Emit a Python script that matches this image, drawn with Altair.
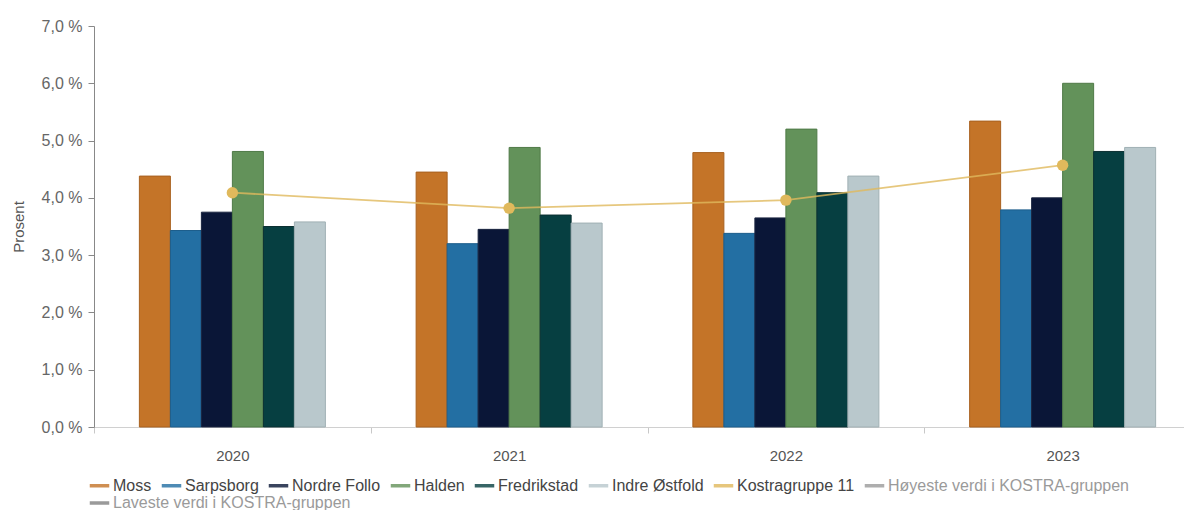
import altair as alt
import pandas as pd

years = ["2020", "2021", "2022", "2023"]
series = ["Moss", "Sarpsborg", "Nordre Follo", "Halden", "Fredrikstad", "Indre Østfold"]
moss = [4.38, 4.45, 4.79, 5.34]
sarpsborg = [3.43, 3.20, 3.38, 3.79]
nordre_follo = [3.75, 3.45, 3.65, 4.00]
halden = [4.81, 4.88, 5.20, 6.00]
fredrikstad = [3.50, 3.70, 4.09, 4.81]
indre_ostfold = [3.58, 3.56, 4.38, 4.88]
kostra_name = "Kostragruppe 11"
kostra = [4.09, 3.82, 3.96, 4.57]
high_name = "Høyeste verdi i KOSTRA-gruppen"
low_name = "Laveste verdi i KOSTRA-gruppen"

legend_names = series + [kostra_name, high_name]
colors = ["#c47428", "#236fa3", "#0a1637", "#63925a", "#063f41", "#b9c8cc",
          "#e0b95c", "#9a9a9a"]
edge_colors = ["#a8611f", "#1d5e8c", "#1b2540", "#4f7a47", "#0b3032", "#a0b0b4"]

rows = []
for name, vals in zip(series, [moss, sarpsborg, nordre_follo, halden, fredrikstad, indre_ostfold]):
    for yr, v in zip(years, vals):
        rows.append({"year": yr, "series": name, "value": v})
bars_df = pd.DataFrame(rows)
kostra_df = pd.DataFrame({"year": years, "series": [kostra_name] * len(years), "value": kostra})
empty_df = pd.DataFrame({"year": pd.Series([], dtype=str), "series": pd.Series([], dtype=str),
                         "value": pd.Series([], dtype=float)})

PLOT_W = 1090          # visible plot area
X_RANGE = 1107         # band scale runs past the right edge, as in the reference
band = X_RANGE / len(years)
group_w = 186
off0 = (band - group_w) / 2

LEG_X = -6
LEG_Y = 448

color_scale = alt.Scale(domain=legend_names, range=colors)
legend = alt.Legend(
    title=None,
    orient="none",
    legendX=LEG_X,
    legendY=LEG_Y,
    direction="horizontal",
    columns=8,
    symbolType="stroke",
    symbolSize=380,
    symbolStrokeWidth=3.5,
    symbolStrokeColor=alt.ExprRef(expr="scale('color', datum.value)"),
    labelFontSize=16,
    labelOffset=2,
    columnPadding=2,
    labelLimit=400,
    labelColor=alt.ExprRef(expr="datum.label == 'Høyeste verdi i KOSTRA-gruppen' ? '#9a9a9a' : '#444444'"),
)
legend_low = alt.Legend(
    title=None,
    orient="none",
    legendX=LEG_X,
    legendY=LEG_Y + 17.5,
    direction="horizontal",
    symbolSize=380,
    symbolStrokeWidth=3.5,
    symbolStrokeColor="#9a9a9a",
    symbolOpacity=1,
    labelFontSize=16,
    labelOffset=2,
    labelLimit=400,
    labelColor="#9a9a9a",
)

x_enc = alt.X(
    "year:N",
    sort=years,
    scale=alt.Scale(paddingInner=0, paddingOuter=0, range=[0, X_RANGE]),
    axis=alt.Axis(title=None, labelAngle=0, tickBand="extent", domainColor="#d0d0d0",
                  tickColor="#c8c8c8", tickSize=6, labelPadding=15, labelFontSize=15,
                  labelColor="#555555", grid=False),
)
y_enc = alt.Y(
    "value:Q",
    scale=alt.Scale(domain=[0, 7], nice=False),
    axis=alt.Axis(values=[0, 1, 2, 3, 4, 5, 6, 7],
                  labelExpr="replace(format(datum.value, '.1f'), '.', ',') + ' %'",
                  grid=False, domainColor="#888888", tickColor="#888888", tickSize=6,
                  labelPadding=6, labelFontSize=16, labelColor="#666666",
                  title="Prosent", titleFontSize=15, titleFontWeight="normal",
                  titleColor="#555555", titlePadding=15),
)

bars = alt.Chart(bars_df).mark_bar(strokeWidth=1).encode(
    x=x_enc,
    xOffset=alt.XOffset("series:N", sort=series,
                        scale=alt.Scale(domain=series, paddingInner=0, paddingOuter=0,
                                        range=[off0, off0 + group_w])),
    y=y_enc,
    color=alt.Color("series:N", scale=color_scale, legend=legend),
    stroke=alt.Stroke("series:N", scale=alt.Scale(domain=series, range=edge_colors), legend=None),
)

line = alt.Chart(kostra_df).mark_line(strokeWidth=1.8, opacity=0.8).encode(
    x=alt.X("year:N", sort=years),
    y="value:Q",
    color=alt.Color("series:N", scale=color_scale, legend=legend),
)
points = alt.Chart(kostra_df).mark_circle(size=130, opacity=1).encode(
    x=alt.X("year:N", sort=years),
    y="value:Q",
    color=alt.Color("series:N", scale=color_scale, legend=legend),
)
low_layer = alt.Chart(empty_df).mark_point(opacity=0).encode(
    x=alt.X("year:N", sort=years),
    y="value:Q",
    shape=alt.Shape("series:N", scale=alt.Scale(domain=[low_name], range=["stroke"]),
                    legend=legend_low),
)

chart = alt.layer(bars, line, points, low_layer).properties(
    width=PLOT_W,
    height=401,
    padding={"left": 86, "top": 18, "right": 0, "bottom": 83},
    autosize=alt.AutoSizeParams(type="none"),
).configure(font="Liberation Sans").configure_view(stroke=None)

chart.save("out.html", embed_options={"renderer": "svg", "actions": False})
